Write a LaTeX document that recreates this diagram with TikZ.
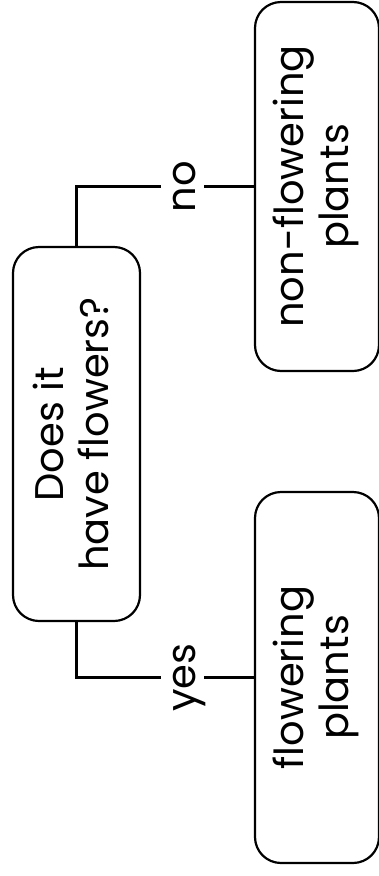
\documentclass[tikz,border=0pt]{standalone}
\usepackage{fontspec}
\setmainfont{Poppins}
\tikzset{
  box/.style={draw, line width=2.2pt, rounded corners=26pt, inner sep=0pt},
  wire/.style={line width=2.2pt},
  lbl/.style={rotate=90, fill=white, inner xsep=0pt, inner ysep=4pt,
              text height=30pt, text depth=5pt, font=\fontsize{40}{45}\selectfont},
}
\newcommand{\boxtext}[1]{\rotatebox{90}{\fontsize{40}{45}\selectfont\begin{tabular}{@{}c@{}}#1\end{tabular}}}
\begin{document}
\begin{tikzpicture}[x=1pt, y=-1pt]
  \useasboundingbox (0,0) rectangle (379,876);
  % question box
  \node[box, minimum width=127pt, minimum height=374pt] (q) at (76.5,434)
    {\boxtext{Does it\\have flowers?}};
  % answer boxes
  \node[box, minimum width=124pt, minimum height=369pt] (nf) at (317,186.5)
    {\boxtext{non-flowering\\plants}};
  \node[box, minimum width=124pt, minimum height=371pt] (fl) at (317,677.5)
    {\boxtext{flowering\\plants}};
  % connectors with labels
  \draw[wire] (q.north) |- node[lbl, pos=0.8] {no} (nf.west);
  \draw[wire] (q.south) |- node[lbl, pos=0.8] {yes} (fl.west);
\end{tikzpicture}
\end{document}
